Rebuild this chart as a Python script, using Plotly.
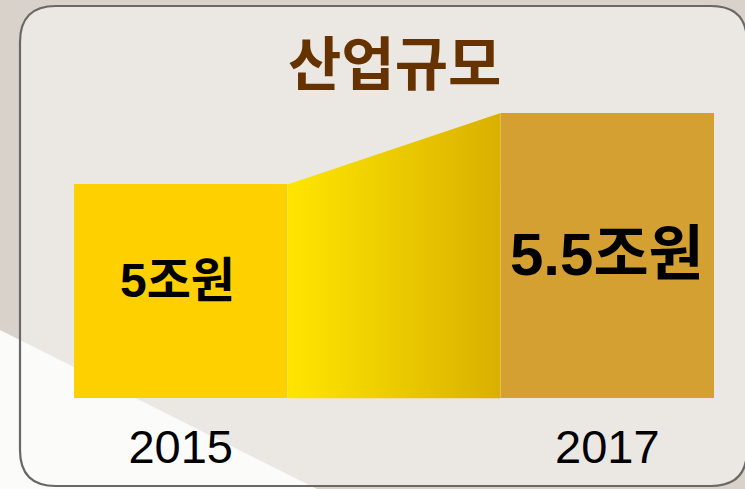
import plotly.graph_objects as go

W, H = 745, 489

# ---- data ----
years = ["2015", "2017"]
values = [5.0, 5.5]
value_labels = ["5조원", "5.5조원"]
title_text = "산업규모"
axis_base = 3.5

bar_colors = ["#FED000", "#D3A031"]
label_sizes = [48, 60]
label_yshift = [11, 1]
label_xshift = [-3, 0]

def px(x):
    return x / W

def py(y):
    return 1 - y / H

xpos = [0, 2]

fig = go.Figure()

# connector (gradient trapezoid) built from data values
fig.add_trace(go.Scatter(
    x=[xpos[0] + 0.5, xpos[1] - 0.5, xpos[1] - 0.5, xpos[0] + 0.5, xpos[0] + 0.5],
    y=[axis_base, axis_base, values[1], values[0], axis_base],
    mode="lines", line=dict(width=0), fill="toself",
    fillgradient=dict(type="horizontal",
                      colorscale=[[0, "#FFE600"], [1, "#D9B000"]]),
    hoverinfo="skip", showlegend=False,
))

fig.add_trace(go.Bar(
    x=xpos, y=[v - axis_base for v in values], base=axis_base,
    width=1.0, marker=dict(color=bar_colors, line=dict(width=0)),
    showlegend=False, hoverinfo="skip",
))

# decorations
def rounded_rect(x0, y0, x1, y1, r):
    return (f"M {px(x0 + r)},{py(y0)} L {px(x1 - r)},{py(y0)} "
            f"Q {px(x1)},{py(y0)} {px(x1)},{py(y0 + r)} "
            f"L {px(x1)},{py(y1 - r)} Q {px(x1)},{py(y1)} {px(x1 - r)},{py(y1)} "
            f"L {px(x0 + r)},{py(y1)} Q {px(x0)},{py(y1)} {px(x0)},{py(y1 - r)} "
            f"L {px(x0)},{py(y0 + r)} Q {px(x0)},{py(y0)} {px(x0 + r)},{py(y0)} Z")

rr = rounded_rect(20, 6, 747, 486, 36)
shapes = [
    dict(type="path", xref="paper", yref="paper", path=rr,
         fillcolor="#EBE8E3", line=dict(width=0), layer="below"),
    dict(type="path", xref="paper", yref="paper",
         path=f"M {px(0)},{py(330)} L {px(317)},{py(489)} L {px(0)},{py(489)} Z",
         fillcolor="#FBFBFA", line=dict(width=0), layer="below"),
    dict(type="path", xref="paper", yref="paper", path=rr,
         fillcolor="rgba(0,0,0,0)", line=dict(color="#6A6866", width=2.2), layer="below"),
]

annotations = [dict(
    text=title_text, xref="paper", yref="paper", x=px(394), y=py(60),
    xanchor="center", yanchor="middle", showarrow=False,
    font=dict(family="Noto Sans CJK KR", size=58, color="#663300", weight="bold"),
)]
for xp, v, lab, fs, ys, xs in zip(xpos, values, value_labels, label_sizes,
                                  label_yshift, label_xshift):
    annotations.append(dict(
        text=lab, x=xp, y=(axis_base + v) / 2, xref="x", yref="y",
        xanchor="center", yanchor="middle", showarrow=False,
        xshift=xs, yshift=ys,
        font=dict(family="Liberation Sans, Noto Sans CJK KR", size=fs,
                  color="#000000", weight="bold"),
    ))

unit = 213.33
x_left = -0.5 - 74 / unit
fig.update_layout(
    width=W, height=H,
    margin=dict(l=0, r=0, t=0, b=0),
    paper_bgcolor="#D8D2CA",
    plot_bgcolor="rgba(0,0,0,0)",
    shapes=shapes,
    annotations=annotations,
    bargap=0,
    xaxis=dict(range=[x_left, x_left + W / unit], domain=[0, 1],
               tickvals=xpos, ticktext=years, showgrid=False, zeroline=False,
               showline=False, ticks="", ticklabelstandoff=16,
               tickfont=dict(family="Liberation Sans", size=47, color="#000000")),
    yaxis=dict(range=[axis_base, 6.2], domain=[py(398.5), py(13.1)],
               showgrid=False, zeroline=False, showline=False,
               showticklabels=False, ticks=""),
)

fig.write_html("out.html", config={"displayModeBar": False},
               post_script="document.body.style.margin='0';document.body.style.overflow='hidden';")
